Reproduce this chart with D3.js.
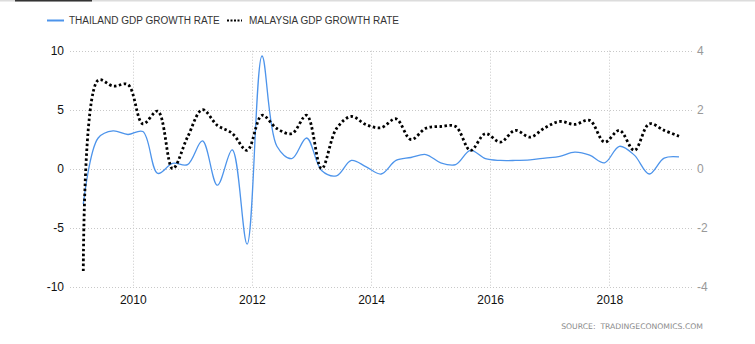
<!DOCTYPE html>
<html>
<head>
<meta charset="utf-8">
<script src="https://cdn.jsdelivr.net/npm/d3@7"></script>
<style>
html,body{margin:0;padding:0;background:#fff;}
svg{display:block;}
</style>
</head>
<body>
<svg id="chart" width="755" height="344"></svg>
<script>
// quarterly observations, 2009 Q1 .. 2019 Q1
const startYear = 2009.17;
const quarterStep = 0.25;
const thailand = [-3.0, 2.6, 3.2, 2.9, 3.15, -0.4, 0.45, 0.35, 2.35, -1.4, 1.6, -6.4, 9.55,
  1.9, 0.85, 2.6, -0.15, -0.6, 0.7, 0.15, -0.45, 0.7, 0.95, 1.2, 0.5, 0.35, 1.55, 0.85, 0.7,
  0.7, 0.75, 0.9, 1.05, 1.4, 1.15, 0.5, 1.9, 1.15, -0.45, 0.9, 1.0];
const malaysia = [-3.47, 3.0, 2.8, 2.85, 1.52, 1.95, 0.0, 1.07, 2.0, 1.47, 1.2, 0.62, 1.81,
  1.36, 1.19, 1.81, 0.0, 1.36, 1.77, 1.49, 1.39, 1.69, 0.99, 1.37, 1.43, 1.43, 0.62, 1.19, 0.9,
  1.3, 1.07, 1.39, 1.6, 1.5, 1.64, 0.9, 1.3, 0.62, 1.52, 1.3, 1.1];
const leftTicks = [-10, -5, 0, 5, 10];
const rightTicks = [-4, -2, 0, 2, 4];
const yearTicks = [2010, 2012, 2014, 2016, 2018];
const seriesNames = ["THAILAND GDP GROWTH RATE", "MALAYSIA GDP GROWTH RATE"];
const sourceText = "SOURCE:  TRADINGECONOMICS.COM";

(function () {
const svg = d3.select("#chart");
const pL = 70, pR = 692, pT = 50.7, pB = 286.7;
const fmt = d => String(d);

const x = d3.scaleLinear().domain([2008.947, 2019.388]).range([pL, pR]);
const yL = d3.scaleLinear().domain([-10, 10]).range([pB, pT]);
const yR = d3.scaleLinear().domain([-4, 4]).range([pB, pT]);

// top decoration
svg.append("rect").attr("x", 0).attr("y", 0).attr("width", 755).attr("height", 1.5).attr("fill", "#dcdcdc");
svg.append("rect").attr("x", 15).attr("y", 0).attr("width", 77).attr("height", 1.5).attr("fill", "#333");

// grid
const g = svg.append("g");
g.selectAll(".hg").data(leftTicks).join("line")
  .attr("x1", pL).attr("x2", pR)
  .attr("y1", d => Math.round(yL(d)) + 0.5).attr("y2", d => Math.round(yL(d)) + 0.5)
  .attr("stroke", "#c8c8c8").attr("stroke-width", 1).attr("stroke-dasharray", "1,2");
g.selectAll(".vg").data(yearTicks).join("line")
  .attr("x1", d => Math.round(x(d)) + 0.5).attr("x2", d => Math.round(x(d)) + 0.5)
  .attr("y1", pT).attr("y2", pB)
  .attr("stroke", "#c8c8c8").attr("stroke-width", 1).attr("stroke-dasharray", "1,2");

// axes
const axL = d3.axisLeft(yL).tickValues(leftTicks).tickSize(0).tickPadding(6).tickFormat(fmt);
const gl = svg.append("g").attr("transform", `translate(${pL},0)`).call(axL);
gl.select(".domain").remove();
gl.selectAll("text").attr("font-family", "Liberation Sans, Arial, sans-serif").attr("font-size", 12).attr("fill", "#111");

const axR = d3.axisRight(yR).tickValues(rightTicks).tickSize(0).tickPadding(5).tickFormat(fmt);
const gr = svg.append("g").attr("transform", `translate(${pR},0)`).call(axR);
gr.select(".domain").remove();
gr.selectAll("text").attr("font-family", "Liberation Sans, Arial, sans-serif").attr("font-size", 12).attr("fill", "#999");

const axB = d3.axisBottom(x).tickValues(yearTicks).tickSize(0).tickPadding(9).tickFormat(fmt);
const gb = svg.append("g").attr("transform", `translate(0,${pB})`).call(axB);
gb.select(".domain").remove();
gb.selectAll("text").attr("font-family", "Liberation Sans, Arial, sans-serif").attr("font-size", 12).attr("fill", "#111");

// lines
const lineT = d3.line().x((d, i) => x(startYear + i * quarterStep)).y(d => yL(d)).curve(d3.curveCatmullRom.alpha(0.5));
const lineM = d3.line().x((d, i) => x(startYear + i * quarterStep)).y(d => yR(d)).curve(d3.curveCatmullRom.alpha(0.5));

svg.append("path").datum(thailand).attr("d", lineT)
  .attr("fill", "none").attr("stroke", "#4d94eb").attr("stroke-width", 1.3);
svg.append("path").datum(malaysia).attr("d", lineM)
  .attr("fill", "none").attr("stroke", "#000").attr("stroke-width", 2.8).attr("stroke-dasharray", "2.5,2.5");

// legend
const lg = svg.append("g");
lg.append("line").attr("x1", 47).attr("x2", 64).attr("y1", 20.5).attr("y2", 20.5).attr("stroke", "#4d94eb").attr("stroke-width", 2);
lg.append("text").attr("x", 69).attr("y", 24).text(seriesNames[0])
  .attr("font-family", "Liberation Sans, Arial, sans-serif").attr("font-size", 10).attr("fill", "#333");
lg.append("line").attr("x1", 227).attr("x2", 242).attr("y1", 20.5).attr("y2", 20.5).attr("stroke", "#000").attr("stroke-width", 2).attr("stroke-dasharray", "2,1.5");
lg.append("text").attr("x", 249).attr("y", 24).text(seriesNames[1])
  .attr("font-family", "Liberation Sans, Arial, sans-serif").attr("font-size", 10).attr("fill", "#333");

// source
svg.append("text").attr("x", 703).attr("y", 329).attr("text-anchor", "end")
  .attr("font-family", "DejaVu Sans, Verdana, sans-serif").attr("font-size", 7.7).attr("fill", "#8a8a8a")
  .attr("xml:space", "preserve").style("white-space", "pre").text(sourceText);
})();
</script>
</body>
</html>
